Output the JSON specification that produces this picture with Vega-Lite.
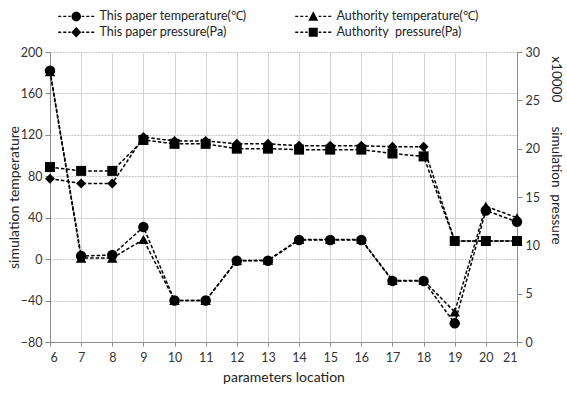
{
  "$schema": "https://vega.github.io/schema/vega-lite/v6.json",
  "width": 467,
  "height": 290,
  "autosize": {"type": "none"},
  "padding": {"left": 50, "top": 52, "right": 50, "bottom": 51},
  "background": "white",
  "config": {
    "view": {"stroke": null},
    "font": "Lato",
    "axis": {
      "domainColor": "#8a8a8a",
      "tickColor": "#8a8a8a",
      "labelColor": "#333333",
      "titleColor": "#222222",
      "labelFontSize": 12.5,
      "titleFontSize": 14,
      "titleFontWeight": "normal",
      "tickSize": 5,
      "labelPadding": 3
    },
    "legend": {
      "orient": "none",
      "legendX": 20,
      "legendY": -42,
      "columns": 2,
      "columnPadding": 46,
      "rowPadding": 2,
      "labelOffset": 17,
      "symbolSize": 100,
      "labelFontSize": 12.5,
      "labelColor": "#222222",
      "labelLimit": 300,
      "padding": 0,
      "symbolStrokeWidth": 0.8
    }
  },
  "data": {
    "values": [
      {"loc": 6, "series": "This paper temperature(℃)", "quantity": "temperature", "value": 182},
      {"loc": 7, "series": "This paper temperature(℃)", "quantity": "temperature", "value": 3},
      {"loc": 8, "series": "This paper temperature(℃)", "quantity": "temperature", "value": 4},
      {"loc": 9, "series": "This paper temperature(℃)", "quantity": "temperature", "value": 31},
      {"loc": 10, "series": "This paper temperature(℃)", "quantity": "temperature", "value": -40},
      {"loc": 11, "series": "This paper temperature(℃)", "quantity": "temperature", "value": -40},
      {"loc": 12, "series": "This paper temperature(℃)", "quantity": "temperature", "value": -1.5},
      {"loc": 13, "series": "This paper temperature(℃)", "quantity": "temperature", "value": -1.5},
      {"loc": 14, "series": "This paper temperature(℃)", "quantity": "temperature", "value": 18.5},
      {"loc": 15, "series": "This paper temperature(℃)", "quantity": "temperature", "value": 18.5},
      {"loc": 16, "series": "This paper temperature(℃)", "quantity": "temperature", "value": 18.5},
      {"loc": 17, "series": "This paper temperature(℃)", "quantity": "temperature", "value": -21},
      {"loc": 18, "series": "This paper temperature(℃)", "quantity": "temperature", "value": -21},
      {"loc": 19, "series": "This paper temperature(℃)", "quantity": "temperature", "value": -62},
      {"loc": 20, "series": "This paper temperature(℃)", "quantity": "temperature", "value": 47},
      {"loc": 21, "series": "This paper temperature(℃)", "quantity": "temperature", "value": 36},
      {"loc": 6, "series": "Authority temperature(℃)", "quantity": "temperature", "value": 181},
      {"loc": 7, "series": "Authority temperature(℃)", "quantity": "temperature", "value": 1},
      {"loc": 8, "series": "Authority temperature(℃)", "quantity": "temperature", "value": 1},
      {"loc": 9, "series": "Authority temperature(℃)", "quantity": "temperature", "value": 19},
      {"loc": 10, "series": "Authority temperature(℃)", "quantity": "temperature", "value": -40},
      {"loc": 11, "series": "Authority temperature(℃)", "quantity": "temperature", "value": -40},
      {"loc": 12, "series": "Authority temperature(℃)", "quantity": "temperature", "value": -1.5},
      {"loc": 13, "series": "Authority temperature(℃)", "quantity": "temperature", "value": -1},
      {"loc": 14, "series": "Authority temperature(℃)", "quantity": "temperature", "value": 19},
      {"loc": 15, "series": "Authority temperature(℃)", "quantity": "temperature", "value": 19},
      {"loc": 16, "series": "Authority temperature(℃)", "quantity": "temperature", "value": 19},
      {"loc": 17, "series": "Authority temperature(℃)", "quantity": "temperature", "value": -20.5},
      {"loc": 18, "series": "Authority temperature(℃)", "quantity": "temperature", "value": -20.5},
      {"loc": 19, "series": "Authority temperature(℃)", "quantity": "temperature", "value": -51},
      {"loc": 20, "series": "Authority temperature(℃)", "quantity": "temperature", "value": 51},
      {"loc": 21, "series": "Authority temperature(℃)", "quantity": "temperature", "value": 40},
      {"loc": 6, "series": "This paper pressure(Pa)", "quantity": "pressure", "value": 16.9},
      {"loc": 7, "series": "This paper pressure(Pa)", "quantity": "pressure", "value": 16.4},
      {"loc": 8, "series": "This paper pressure(Pa)", "quantity": "pressure", "value": 16.4},
      {"loc": 9, "series": "This paper pressure(Pa)", "quantity": "pressure", "value": 21.2},
      {"loc": 10, "series": "This paper pressure(Pa)", "quantity": "pressure", "value": 20.8},
      {"loc": 11, "series": "This paper pressure(Pa)", "quantity": "pressure", "value": 20.8},
      {"loc": 12, "series": "This paper pressure(Pa)", "quantity": "pressure", "value": 20.5},
      {"loc": 13, "series": "This paper pressure(Pa)", "quantity": "pressure", "value": 20.5},
      {"loc": 14, "series": "This paper pressure(Pa)", "quantity": "pressure", "value": 20.3},
      {"loc": 15, "series": "This paper pressure(Pa)", "quantity": "pressure", "value": 20.3},
      {"loc": 16, "series": "This paper pressure(Pa)", "quantity": "pressure", "value": 20.3},
      {"loc": 17, "series": "This paper pressure(Pa)", "quantity": "pressure", "value": 20.2},
      {"loc": 18, "series": "This paper pressure(Pa)", "quantity": "pressure", "value": 20.2},
      {"loc": 19, "series": "This paper pressure(Pa)", "quantity": "pressure", "value": 10.45},
      {"loc": 20, "series": "This paper pressure(Pa)", "quantity": "pressure", "value": 10.45},
      {"loc": 21, "series": "This paper pressure(Pa)", "quantity": "pressure", "value": 10.45},
      {"loc": 6, "series": "Authority  pressure(Pa)", "quantity": "pressure", "value": 18.1},
      {"loc": 7, "series": "Authority  pressure(Pa)", "quantity": "pressure", "value": 17.7},
      {"loc": 8, "series": "Authority  pressure(Pa)", "quantity": "pressure", "value": 17.7},
      {"loc": 9, "series": "Authority  pressure(Pa)", "quantity": "pressure", "value": 20.9},
      {"loc": 10, "series": "Authority  pressure(Pa)", "quantity": "pressure", "value": 20.5},
      {"loc": 11, "series": "Authority  pressure(Pa)", "quantity": "pressure", "value": 20.5},
      {"loc": 12, "series": "Authority  pressure(Pa)", "quantity": "pressure", "value": 20.0},
      {"loc": 13, "series": "Authority  pressure(Pa)", "quantity": "pressure", "value": 20.0},
      {"loc": 14, "series": "Authority  pressure(Pa)", "quantity": "pressure", "value": 19.9},
      {"loc": 15, "series": "Authority  pressure(Pa)", "quantity": "pressure", "value": 19.9},
      {"loc": 16, "series": "Authority  pressure(Pa)", "quantity": "pressure", "value": 19.9},
      {"loc": 17, "series": "Authority  pressure(Pa)", "quantity": "pressure", "value": 19.5},
      {"loc": 18, "series": "Authority  pressure(Pa)", "quantity": "pressure", "value": 19.2},
      {"loc": 19, "series": "Authority  pressure(Pa)", "quantity": "pressure", "value": 10.45},
      {"loc": 20, "series": "Authority  pressure(Pa)", "quantity": "pressure", "value": 10.45},
      {"loc": 21, "series": "Authority  pressure(Pa)", "quantity": "pressure", "value": 10.45}
    ]
  },
  "encoding": {
    "x": {
      "field": "loc",
      "type": "quantitative",
      "scale": {"domain": [6, 21], "nice": false, "zero": false},
      "axis": {
        "values": [6, 7, 8, 9, 10, 11, 12, 13, 14, 15, 16, 17, 18, 19, 20, 21],
        "title": "parameters location",
        "grid": true,
        "gridColor": "#d4d4d4",
        "gridWidth": 1,
        "tickSize": 4,
        "labelPadding": 5,
        "titlePadding": 7
      }
    }
  },
  "layer": [
    {
      "transform": [{"filter": "datum.quantity === 'temperature'"}],
      "encoding": {
        "y": {
          "field": "value",
          "type": "quantitative",
          "scale": {"domain": [-80, 200], "nice": false, "zero": false},
          "axis": {
            "orient": "left",
            "values": [-80, -40, 0, 40, 80, 120, 160, 200],
            "title": "simulation temperature",
            "grid": true,
            "gridColor": "#c4c4c4",
            "gridDash": [2, 1],
            "gridWidth": 1,
            "titlePadding": -1
          }
        }
      },
      "layer": [
        {
          "mark": {"type": "line", "color": "black", "strokeDash": [3.5, 2], "strokeWidth": 1.5},
          "encoding": {"detail": {"field": "series"}}
        },
        {
          "mark": {"type": "point", "filled": true, "color": "black", "opacity": 1, "size": 110},
          "encoding": {
            "shape": {
              "field": "series",
              "scale": {"domain": ["This paper temperature(℃)", "Authority temperature(℃)"], "range": ["circle", "triangle-up"]},
              "legend": null
            }
          }
        }
      ]
    },
    {
      "transform": [{"filter": "datum.quantity === 'pressure'"}],
      "encoding": {
        "y": {
          "field": "value",
          "type": "quantitative",
          "scale": {"domain": [0, 30], "nice": false, "zero": false},
          "axis": {
            "orient": "right",
            "values": [0, 5, 10, 15, 20, 25, 30],
            "title": "x10000\u00a0\u00a0\u00a0\u00a0\u00a0\u00a0\u00a0simulation\u00a0\u00a0pressure",
            "titleAngle": 90,
            "titleY": 98,
            "titleAlign": "center",
            "titleFontSize": 13.5,
            "grid": false,
            "titlePadding": 9
          }
        }
      },
      "layer": [
        {
          "mark": {"type": "line", "color": "black", "strokeDash": [3.5, 2], "strokeWidth": 1.5},
          "encoding": {"detail": {"field": "series"}}
        },
        {
          "mark": {"type": "point", "filled": true, "color": "black", "opacity": 1, "size": 100},
          "encoding": {
            "shape": {
              "field": "series",
              "scale": {"domain": ["This paper pressure(Pa)", "Authority  pressure(Pa)"], "range": ["diamond", "square"]},
              "legend": null
            }
          }
        }
      ]
    },
    {
      "transform": [{"filter": "datum.loc < 0"}],
      "mark": {"type": "point", "filled": true, "color": "black", "opacity": 1},
      "encoding": {
        "y": {"field": "value", "type": "quantitative", "axis": null, "scale": {"domain": [0, 1]}},
        "shape": {
          "field": "series",
          "scale": {
            "domain": ["This paper temperature(℃)", "This paper pressure(Pa)", "Authority temperature(℃)", "Authority  pressure(Pa)"],
            "range": [
              "M-3.6,-0.14H-3.0V0.14H-3.6ZM-2.6,-0.14H-2.0V0.14H-2.6ZM-1.6,-0.14H-1.1V0.14H-1.6ZM1.1,-0.14H1.6V0.14H1.1ZM2.0,-0.14H2.6V0.14H2.0ZM3.0,-0.14H3.6V0.14H3.0ZM-0.95,0A0.95,0.95,0,1,0,0.95,0A0.95,0.95,0,1,0,-0.95,0Z",
              "M-3.6,-0.14H-3.0V0.14H-3.6ZM-2.6,-0.14H-2.0V0.14H-2.6ZM-1.6,-0.14H-1.1V0.14H-1.6ZM1.1,-0.14H1.6V0.14H1.1ZM2.0,-0.14H2.6V0.14H2.0ZM3.0,-0.14H3.6V0.14H3.0ZM0,-1.05L1,0L0,1.05L-1,0Z",
              "M-3.6,-0.14H-3.0V0.14H-3.6ZM-2.6,-0.14H-2.0V0.14H-2.6ZM-1.6,-0.14H-1.1V0.14H-1.6ZM1.1,-0.14H1.6V0.14H1.1ZM2.0,-0.14H2.6V0.14H2.0ZM3.0,-0.14H3.6V0.14H3.0ZM0,-1.05L1,0.85L-1,0.85Z",
              "M-3.6,-0.14H-3.0V0.14H-3.6ZM-2.6,-0.14H-2.0V0.14H-2.6ZM-1.6,-0.14H-1.1V0.14H-1.6ZM1.1,-0.14H1.6V0.14H1.1ZM2.0,-0.14H2.6V0.14H2.0ZM3.0,-0.14H3.6V0.14H3.0ZM-0.9,-0.9H0.9V0.9H-0.9Z"
            ]
          },
          "legend": {"title": null, "labelExpr": "replace(datum.label, '  ', ' \u00a0')"}
        }
      }
    }
  ],
  "resolve": {"scale": {"y": "independent", "shape": "independent"}}
}
